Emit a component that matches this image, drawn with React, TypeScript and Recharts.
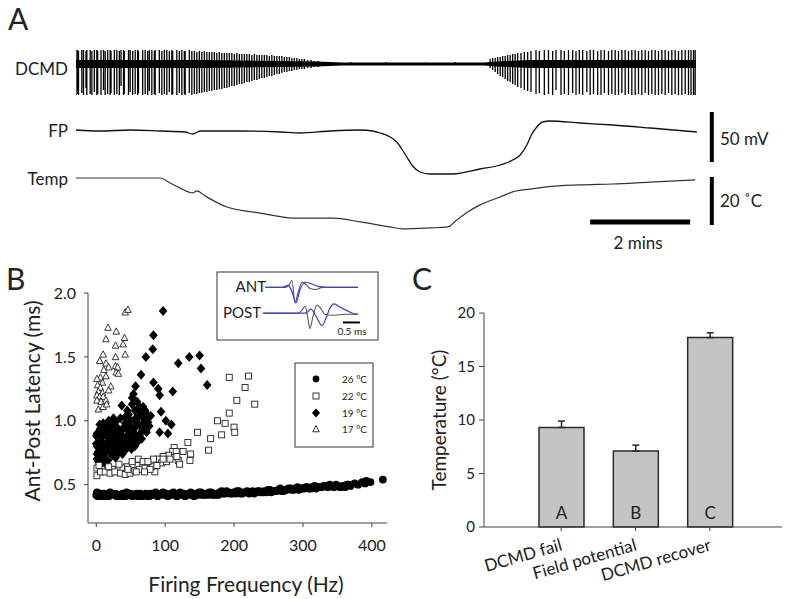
import React from 'react';
import {
  ComposedChart, ScatterChart, LineChart, Line, Area, Scatter, Bar, ErrorBar, LabelList,
  XAxis, YAxis, ReferenceLine,
} from 'recharts';

const FONT = 'Lato, "Open Sans", sans-serif';

// ---- Panel A: DCMD spikes [time s, up, down], FP (mV) and temperature (°C) ----
const dcmdSpikes: [number, number, number][] = [
  [0, 14, -31], [2, 14, -30], [3, 13, -31], [7, 14, -29], [9, 14, -31], [12, 13, -24], [13, 14, -31],
  [17, 14, -30], [19, 13, -31], [22, 14, -28], [25, 14, -31], [26, 13, -30], [30, 14, -31], [33, 14, -26],
  [35, 13, -31], [38, 14, -30], [41, 14, -31], [42, 13, -29], [46, 14, -31], [49, 14, -30], [52, 13, -31],
  [54, 14, -22], [57, 14, -31], [58, 13, -30], [63, 14, -31], [65, 14, -28], [68, 13, -31], [71, 14, -30],
  [74, 14, -31], [75, 13, -29], [80, 14, -31], [83, 14, -30], [86, 13, -31], [88, 14, -27], [91, 14, -31],
  [94, 13, -30], [95, 14, -31], [100, 14, -29], [103, 13, -31], [106, 14, -30], [109, 14, -31], [112, 13, -28],
  [115, 14, -31], [116, 13, -30], [121, 14, -31], [124, 13, -29], [127, 14, -31], [130, 13, -30], [131, 13, -31],
  [136, 14, -29], [139, 13, -31], [142, 13, -30], [145, 12, -30], [148, 13, -29],
  [151, 12, -29], [154, 13, -28], [157, 12, -28], [160, 12, -27], [163, 12, -27], [166, 12, -26], [169, 11, -26],
  [172, 12, -25], [175, 11, -25], [178, 11, -24], [181, 11, -24], [184, 11, -23], [187, 11, -22], [190, 10, -22],
  [193, 11, -21], [196, 10, -20], [199, 10, -20], [202, 10, -19], [205, 10, -18], [208, 10, -18], [211, 9, -17],
  [214, 10, -16], [217, 9, -16], [220, 9, -15], [223, 9, -14], [226, 9, -14], [229, 9, -13], [232, 8, -12],
  [235, 9, -12], [238, 8, -11], [241, 8, -10], [244, 8, -10], [247, 8, -9], [250, 7, -8], [253, 7, -8],
  [256, 7, -7], [259, 6, -7], [262, 6, -6], [265, 6, -6], [268, 5, -5], [271, 5, -5], [274, 5, -5],
  [278, 4, -4], [282, 4, -4], [286, 3, -3], [291, 3, -3], [296, 2, -2],
  [330, 2, -1], [372, 2, -1], [420, 1.5, -1], [455, 2, -1],
  [497, 5, -4], [500, 6, -6], [503, 6, -8], [506, 7, -10], [509, 7, -12], [512, 8, -13], [515, 8, -15],
  [518, 9, -17], [521, 9, -18], [524, 10, -20], [527, 10, -21], [530, 11, -23], [534, 11, -24], [538, 12, -26],
  [542, 12, -27], [546, 13, -28],
  [552, 14, -30], [556, 13, -29], [562, 14, -31], [567, 14, -30], [572, 13, -31], [576, 14, -26], [582, 14, -31],
  [586, 13, -30], [591, 14, -31], [596, 14, -29], [600, 13, -31], [604, 14, -30], [608, 14, -31], [613, 13, -28],
  [617, 14, -31], [621, 14, -30], [626, 13, -31], [630, 14, -31], [634, 14, -29], [639, 13, -31], [643, 14, -30],
  [647, 14, -31], [651, 13, -31], [655, 14, -29], [659, 14, -31], [663, 13, -30], [667, 14, -31], [671, 14, -31],
  [675, 13, -30], [679, 14, -31], [683, 14, -29], [687, 13, -31], [691, 14, -30], [695, 14, -31], [699, 13, -31],
  [703, 14, -30], [707, 14, -31], [711, 13, -29], [715, 14, -31], [719, 14, -30], [723, 13, -31], [727, 14, -31],
  [731, 14, -30], [735, 14, -31], [738, 14, -31], [741, 14, -31], [743, 14, -31],
];

// noise band of the DCMD baseline [time s, half width]
const dcmdNoise: [number, number][] = [
  [0, 4], [150, 4], [290, 2.5], [320, 1.5], [490, 1.5], [505, 2.5], [545, 4], [744, 4],
];

const fpTrace: [number, number][] = [
  [0, -30], [29, -31], [65, -30], [101, -31], [131, -32], [140, -34], [149, -31], [197, -31], [245, -32],
  [269, -33], [305, -31], [341, -30], [356, -31], [365, -33], [377, -37], [385, -42], [391, -49], [397, -57],
  [404, -66], [413, -72], [425, -74], [452, -74], [485, -69], [509, -65], [524, -60], [533, -55], [541, -45],
  [547, -34], [553, -27], [560, -22], [569, -21], [605, -23], [644, -25], [689, -28], [745, -32],
];

const tempTrace: [number, number][] = [
  [0, 26], [101, 26], [113, 23.9], [125, 21.8], [140, 19.8], [145, 20.6], [155, 18.5], [181, 13.9],
  [221, 11.4], [260, 9.3], [308, 9.3], [341, 7.7], [377, 5.6], [392, 4.8], [425, 5.2], [446, 5.6],
  [457, 8.5], [470, 11.8], [485, 14.8], [509, 18.1], [524, 20.2], [545, 21.4], [565, 22.3], [605, 23.1],
  [644, 23.5], [689, 24.3], [743, 25.2],
];

// ---- Panel B: latency (ms) vs firing frequency (Hz) ----
const lat26: [number, number][] = [
  [0, 0.42], [2, 0.41], [4, 0.43], [6, 0.42], [9, 0.41], [12, 0.43], [15, 0.42], [18, 0.41], [22, 0.43],
  [26, 0.42], [30, 0.41], [34, 0.42], [38, 0.43], [42, 0.41], [46, 0.42], [50, 0.43], [55, 0.42], [60, 0.41],
  [64, 0.43], [69, 0.42], [74, 0.41], [79, 0.43], [84, 0.42], [89, 0.41], [94, 0.43], [99, 0.42], [104, 0.41],
  [109, 0.43], [114, 0.42], [119, 0.43], [124, 0.42], [129, 0.41], [134, 0.43], [139, 0.42], [144, 0.43],
  [149, 0.44], [154, 0.42], [159, 0.43], [164, 0.44], [169, 0.42], [174, 0.43], [179, 0.44], [184, 0.43],
  [189, 0.45], [194, 0.43], [199, 0.44], [204, 0.45], [209, 0.43], [214, 0.44], [219, 0.45], [224, 0.44],
  [229, 0.43], [234, 0.45], [239, 0.44], [244, 0.45], [249, 0.46], [254, 0.44], [259, 0.45], [264, 0.46],
  [269, 0.45], [274, 0.46], [279, 0.47], [284, 0.46], [289, 0.47], [294, 0.46], [299, 0.47], [304, 0.48],
  [309, 0.47], [314, 0.48], [319, 0.47], [324, 0.48], [330, 0.49], [336, 0.48], [342, 0.49], [348, 0.5],
  [354, 0.48], [358, 0.49], [364, 0.5], [369, 0.49], [375, 0.51], [380, 0.5], [386, 0.52], [390, 0.51],
  [392, 0.53], [398, 0.52], [416, 0.54],
  [1, 0.44], [8, 0.43], [13, 0.41], [20, 0.44], [28, 0.43], [36, 0.41], [44, 0.44], [52, 0.41], [58, 0.43],
  [66, 0.41], [72, 0.43], [77, 0.41], [86, 0.44], [92, 0.42], [97, 0.44], [102, 0.43], [107, 0.42],
  [112, 0.44], [117, 0.41], [122, 0.44], [127, 0.43], [132, 0.42], [137, 0.44], [142, 0.41], [147, 0.42],
  [152, 0.44], [157, 0.42], [162, 0.42], [167, 0.44], [172, 0.42], [177, 0.42], [182, 0.45], [187, 0.43],
  [192, 0.44], [197, 0.43], [202, 0.43], [207, 0.45], [212, 0.43], [217, 0.44], [222, 0.43], [227, 0.45],
  [232, 0.44], [237, 0.45], [242, 0.44], [247, 0.44], [252, 0.46], [257, 0.45], [262, 0.45], [267, 0.47],
  [272, 0.45], [277, 0.46], [282, 0.47], [287, 0.46], [292, 0.48], [297, 0.47], [302, 0.47], [307, 0.48],
  [312, 0.47], [317, 0.49], [322, 0.48], [327, 0.48], [333, 0.49], [339, 0.5], [345, 0.48], [351, 0.49],
  [361, 0.48], [366, 0.5],
];

const lat22: [number, number][] = [
  [221, 1.35], [193, 1.34], [216, 1.26], [204, 1.16], [230, 1.13], [193, 1.06], [176, 1.0], [187, 0.98],
  [182, 0.89], [200, 0.95], [201, 0.91], [166, 0.86], [163, 0.77], [147, 0.91], [133, 0.83], [126, 0.76],
  [137, 0.74], [136, 0.69], [119, 0.69], [121, 0.66], [113, 0.79], [111, 0.76], [105, 0.73], [97, 0.72],
  [90, 0.7], [83, 0.7], [85, 0.6], [80, 0.64], [73, 0.67], [66, 0.66], [59, 0.65], [52, 0.65], [44, 0.64],
  [37, 0.63], [30, 0.62], [23, 0.62], [15, 0.61], [8, 0.62], [1, 0.63], [1, 0.57], [6, 0.6], [13, 0.6],
  [20, 0.59], [27, 0.6], [35, 0.59], [42, 0.58], [49, 0.59], [56, 0.61], [63, 0.62], [71, 0.63], [78, 0.62],
  [61, 0.7], [68, 0.68], [75, 0.68], [52, 0.68], [95, 0.67], [102, 0.68], [107, 0.7], [116, 0.76], [97, 0.7],
  [117, 0.72], [4, 0.65], [18, 0.64], [33, 0.66], [46, 0.62], [58, 0.6], [88, 0.65], [70, 0.6],
];

const lat19: [number, number][] = [
  [97, 1.86], [83, 1.67], [82, 1.56], [72, 1.5], [65, 1.36], [57, 1.27], [119, 1.45], [135, 1.5], [150, 1.51],
  [152, 1.41], [161, 1.28], [111, 1.23], [83, 1.3], [90, 1.25], [92, 1.2], [94, 1.07], [101, 1.0], [109, 0.97],
  [104, 0.9], [92, 0.91], [79, 1.04], [54, 1.21], [59, 1.15], [52, 1.13], [63, 1.11], [56, 1.08], [68, 1.11],
  [73, 1.05], [63, 1.04], [47, 1.05], [42, 1.03], [35, 1.02], [28, 0.99], [22, 0.96], [15, 0.95], [6, 0.94],
  [1, 0.9], [11, 0.9], [20, 0.91], [30, 0.92], [40, 0.95], [49, 0.96], [59, 0.98], [68, 0.95], [73, 0.91],
  [66, 0.86], [54, 0.91], [44, 0.88], [35, 0.86], [25, 0.84], [15, 0.83], [6, 0.84], [1, 0.8], [6, 0.78],
  [1, 0.74], [8, 0.72], [15, 0.76], [25, 0.78], [32, 0.8], [40, 0.82], [49, 0.83], [56, 0.8], [61, 0.84],
  [51, 0.78], [42, 0.77], [33, 0.76], [23, 0.73], [13, 0.7], [3, 0.68], [10, 0.66], [1, 0.7], [0, 0.88],
  [0, 0.82], [30, 0.95], [37, 0.88], [20, 0.86], [27, 0.89], [15, 0.9], [42, 0.98], [37, 1.12], [52, 1.18],
  [45, 1.08], [68, 1.02], [75, 0.99], [63, 0.89], [47, 0.92],
  [3, 0.76], [5, 0.82], [8, 0.87], [10, 0.8], [12, 0.74], [17, 0.79], [18, 0.86], [21, 0.81], [24, 0.75],
  [26, 0.92], [29, 0.84], [31, 0.74], [33, 0.89], [36, 0.8], [38, 0.93], [40, 0.87], [44, 0.82], [46, 0.97],
  [48, 0.88], [50, 1.0], [53, 0.85], [55, 0.94], [57, 1.02], [58, 0.88], [62, 0.97], [64, 1.06], [66, 0.92],
  [70, 0.99], [71, 1.08], [77, 0.96], [5, 0.97], [10, 0.98], [18, 1.0], [25, 1.02], [3, 0.71], [7, 0.67],
  [17, 0.69], [28, 0.71], [38, 0.74], [48, 0.8],
];

const lat17: [number, number][] = [
  [42, 1.85], [46, 1.87], [17, 1.73], [29, 1.7], [14, 1.64], [41, 1.65], [28, 1.59], [39, 1.6], [10, 1.52],
  [42, 1.52], [28, 1.5], [5, 1.47], [14, 1.45], [18, 1.42], [28, 1.43], [31, 1.42], [29, 1.38], [32, 1.37],
  [11, 1.4], [6, 1.34], [14, 1.35], [1, 1.33], [9, 1.3], [2, 1.28], [6, 1.26], [21, 1.27], [18, 1.24],
  [3, 1.23], [9, 1.22], [1, 1.2], [5, 1.19], [10, 1.19], [1, 1.16], [7, 1.15], [14, 1.16], [3, 1.09],
  [10, 1.11], [15, 1.13],
];

const freqTicks = [0, 100, 200, 300, 400];
const latTicks = [0.5, 1.0, 1.5, 2.0];

// inset waveforms [time ms, amplitude]
const antBlack: [number, number][] = [
  [0.06, 0], [0.65, 0], [0.76, 2], [0.85, 7], [0.94, -15], [1.03, -5], [1.15, 5], [1.26, 3], [1.38, -1],
  [1.56, -2], [1.74, 0], [2.79, 0],
];
const antBlue: [number, number][] = [
  [0.06, 0], [0.56, 0], [0.74, 2], [0.85, -4], [0.97, -15], [1.09, -2], [1.24, 5], [1.38, 4], [1.62, 1],
  [1.91, 0], [2.79, 0],
];
const postBlack: [number, number][] = [
  [0, 0], [1.03, 0], [1.15, 3], [1.24, 7], [1.32, -5], [1.38, -15], [1.47, -3], [1.59, 8], [1.71, 4],
  [1.82, -1], [2.03, -2], [2.41, -1], [2.79, -1],
];
const postBlue: [number, number][] = [
  [0, 0], [1.26, 0], [1.41, 4], [1.56, -3], [1.74, -12], [1.85, -5], [1.97, 5], [2.09, 9], [2.26, 6],
  [2.5, 2], [2.74, -1], [2.79, -1],
];

// ---- Panel C ----
const stages = ['DCMD fail', 'Field potential', 'DCMD recover'];
const stageTemps = [9.3, 7.1, 17.7];
const stageSem = [0.6, 0.55, 0.45];
const stageLetters = ['A', 'B', 'C'];

const toXY = (arr: [number, number][], kx: string, ky: string) => arr.map(([a, b]) => ({ [kx]: a, [ky]: b }));

const dcmdData = dcmdSpikes.flatMap(([t, up, down]) => [
  { t, v: 0 }, { t, v: up }, { t, v: down }, { t, v: 0 },
]);
const noiseData = dcmdNoise.map(([t, w]) => ({ t, band: [-w, w] }));
const fpData = toXY(fpTrace, 't', 'v');
const tempData = toXY(tempTrace, 't', 'v');

const stageData = stages.map((name, i) => ({
  name, temp: stageTemps[i], err: [0, stageSem[i]], letter: stageLetters[i],
}));

const Dot26 = (p: any) => <circle cx={p.cx} cy={p.cy} r={3.9} fill="#000" />;
const Sq22 = (p: any) => (
  <rect x={p.cx - 3} y={p.cy - 3} width={6} height={6} fill="#fff" stroke="#222" strokeWidth={0.9} />
);
const Dia19 = (p: any) => (
  <polygon points={`${p.cx},${p.cy - 5} ${p.cx + 4.3},${p.cy} ${p.cx},${p.cy + 5} ${p.cx - 4.3},${p.cy}`} fill="#000" />
);
const Tri17 = (p: any) => (
  <polygon points={`${p.cx},${p.cy - 3.5} ${p.cx + 3.3},${p.cy + 2.8} ${p.cx - 3.3},${p.cy + 2.8}`} fill="#fff" stroke="#222" strokeWidth={0.9} />
);

const SlantTick = ({ x, y, payload }: any) => (
  <text x={x + 2} y={y + 17} textAnchor="end" fontSize={17} fontFamily={FONT} fill="#222"
    transform={`rotate(-16 ${x + 2} ${y + 17})`}>{payload.value}</text>
);

const tickStyle = { fontSize: 16, fill: '#222', fontFamily: FONT };

export default function App() {
  return (
    <div style={{ position: 'absolute', left: 0, top: 0, width: 787, height: 599, background: '#fff', fontFamily: FONT }}>
      {/* A: traces */}
      <ComposedChart width={787} height={260} margin={{ top: 40, right: 51, bottom: 10, left: 76 }}
        style={{ position: 'absolute', left: 0, top: 0 }}>
        <XAxis type="number" dataKey="t" domain={[0, 792]} hide allowDataOverflow />
        <YAxis yAxisId="dcmd" type="number" domain={[-186, 24]} hide allowDataOverflow />
        <YAxis yAxisId="fp" type="number" domain={[-150, 60]} hide allowDataOverflow />
        <YAxis yAxisId="temp" type="number" domain={[-4, 83.5]} hide allowDataOverflow />
        <Area yAxisId="dcmd" data={noiseData} dataKey="band" type="linear" fill="#000" fillOpacity={1}
          stroke="none" isAnimationActive={false} />
        <Line yAxisId="dcmd" data={dcmdData} dataKey="v" type="linear" stroke="#000" strokeWidth={1.3}
          dot={false} isAnimationActive={false} />
        <Line yAxisId="fp" data={fpData} dataKey="v" type="monotone" stroke="#111" strokeWidth={1.3}
          dot={false} isAnimationActive={false} />
        <Line yAxisId="temp" data={tempData} dataKey="v" type="monotone" stroke="#333" strokeWidth={1.2}
          dot={false} isAnimationActive={false} />
        {/* scale bars: 50 mV, 20 °C, 2 mins */}
        <ReferenceLine yAxisId="fp" segment={[{ x: 763, y: -62 }, { x: 763, y: -12 }]} stroke="#000" strokeWidth={4} ifOverflow="visible" />
        <ReferenceLine yAxisId="temp" segment={[{ x: 763, y: 6.4 }, { x: 763, y: 26.4 }]} stroke="#000" strokeWidth={4} ifOverflow="visible" />
        <ReferenceLine yAxisId="temp" segment={[{ x: 617, y: 7.7 }, { x: 737, y: 7.7 }]} stroke="#000" strokeWidth={5} ifOverflow="visible" />
      </ComposedChart>

      {/* B: scatter */}
      <ScatterChart width={400} height={339} margin={{ top: 33, right: 13, bottom: 46, left: 28 }}
        style={{ position: 'absolute', left: 0, top: 260 }}>
        <XAxis type="number" dataKey="f" domain={[-12, 422]} ticks={freqTicks} allowDataOverflow
          stroke="#444" tickSize={4} tickMargin={13} height={30} tick={tickStyle} />
        <YAxis type="number" dataKey="lat" domain={[0.2, 2.0]} ticks={latTicks} allowDataOverflow
          tickFormatter={(v: number) => v.toFixed(1)} stroke="#444" tickSize={4} tickMargin={8} width={60} tick={tickStyle} />
        <Scatter data={toXY(lat26, 'f', 'lat')} shape={Dot26} isAnimationActive={false} />
        <Scatter data={toXY(lat19, 'f', 'lat')} shape={Dia19} isAnimationActive={false} />
        <Scatter data={toXY(lat22, 'f', 'lat')} shape={Sq22} isAnimationActive={false} />
        <Scatter data={toXY(lat17, 'f', 'lat')} shape={Tri17} isAnimationActive={false} />
      </ScatterChart>

      {/* B inset: waveforms */}
      <LineChart width={140} height={70} margin={{ top: 2, right: 6, bottom: 2, left: 0 }}
        style={{ position: 'absolute', left: 263, top: 272 }}>
        <XAxis type="number" dataKey="t" domain={[0, 3.94]} hide allowDataOverflow />
        <YAxis yAxisId="ant" type="number" domain={[-51, 13]} hide allowDataOverflow />
        <YAxis yAxisId="post" type="number" domain={[-26, 38]} hide allowDataOverflow />
        <Line yAxisId="ant" data={toXY(antBlack, 't', 'v')} dataKey="v" type="monotone" stroke="#555" strokeWidth={1.1} dot={false} isAnimationActive={false} />
        <Line yAxisId="ant" data={toXY(antBlue, 't', 'v')} dataKey="v" type="monotone" stroke="#3a3ae0" strokeWidth={1.2} dot={false} isAnimationActive={false} />
        <Line yAxisId="post" data={toXY(postBlack, 't', 'v')} dataKey="v" type="monotone" stroke="#555" strokeWidth={1.1} dot={false} isAnimationActive={false} />
        <Line yAxisId="post" data={toXY(postBlue, 't', 'v')} dataKey="v" type="monotone" stroke="#3a3ae0" strokeWidth={1.2} dot={false} isAnimationActive={false} />
        <ReferenceLine yAxisId="post" segment={[{ x: 2.35, y: -9 }, { x: 2.85, y: -9 }]} stroke="#000" strokeWidth={2} ifOverflow="visible" />
      </LineChart>

      {/* C: bars */}
      <ComposedChart width={387} height={339} data={stageData} margin={{ top: 53, right: 5, bottom: 32, left: 24 }}
        style={{ position: 'absolute', left: 400, top: 260 }}>
        <XAxis dataKey="name" padding={{ left: 40, right: 35 }} stroke="#444" tickSize={4} height={40}
          tick={<SlantTick />} interval={0} />
        <YAxis type="number" domain={[0, 20]} ticks={[0, 5, 10, 15, 20]} stroke="#444" tickSize={5}
          tickMargin={4} width={60} tick={{ ...tickStyle, fontSize: 15 }} />
        <Bar dataKey="temp" barSize={45} fill="#c4c4c4" stroke="#2a2a2a" strokeWidth={1.5} isAnimationActive={false}>
          <ErrorBar dataKey="err" direction="y" width={3.5} stroke="#2a2a2a" strokeWidth={1.5} />
          <LabelList dataKey="letter" position="insideBottom" offset={8} fill="#222" fontSize={17} fontFamily={FONT} />
        </Bar>
      </ComposedChart>

      {/* text, frames and legend */}
      <svg width={787} height={599} style={{ position: 'absolute', left: 0, top: 0, pointerEvents: 'none' }}
        fontFamily={FONT} fill="#222">
        <text x={8} y={18} fontSize={30} dominantBaseline="central">A</text>
        <text x={6} y={278} fontSize={30} dominantBaseline="central">B</text>
        <text x={412} y={278} fontSize={30} dominantBaseline="central">C</text>

        <text x={68} y={68} fontSize={17} textAnchor="end" dominantBaseline="central">DCMD</text>
        <text x={68} y={130} fontSize={17} textAnchor="end" dominantBaseline="central">FP</text>
        <text x={68} y={178} fontSize={17} textAnchor="end" dominantBaseline="central">Temp</text>
        <text x={720} y={138} fontSize={17} dominantBaseline="central">50 mV</text>
        <text x={720} y={200} fontSize={17} dominantBaseline="central">20 ˚C</text>
        <text x={638} y={242} fontSize={17} textAnchor="middle" dominantBaseline="central">2 mins</text>

        <text x={31} y={401} fontSize={21} textAnchor="middle" dominantBaseline="central"
          transform="rotate(-90 31 401)">Ant-Post Latency (ms)</text>
        <text x={246} y={583} fontSize={21} textAnchor="middle" dominantBaseline="central">Firing Frequency (Hz)</text>
        <text x={438} y={420} fontSize={19} textAnchor="middle" dominantBaseline="central"
          transform="rotate(-90 438 420)">Temperature (°C)</text>

        <rect x={217} y={272} width={161} height={68} fill="none" stroke="#333" strokeWidth={1} />
        <text x={266} y={286} fontSize={15} textAnchor="end" dominantBaseline="central">ANT</text>
        <text x={261} y={312} fontSize={15} textAnchor="end" dominantBaseline="central">POST</text>
        <text x={352} y={331} fontSize={10} textAnchor="middle" dominantBaseline="central">0.5 ms</text>

        <rect x={295} y={363} width={78} height={84} fill="none" stroke="#333" strokeWidth={1} />
        <circle cx={316} cy={379} r={3.4} fill="#000" />
        <rect x={313} y={393} width={6} height={6} fill="#fff" stroke="#222" strokeWidth={0.9} />
        <polygon points="316,408.5 320,413 316,417.5 312,413" fill="#000" />
        <polygon points="316,425.5 319.3,431.8 312.7,431.8" fill="#fff" stroke="#222" strokeWidth={0.9} />
        <text x={342} y={379} fontSize={10} dominantBaseline="central">26 °C</text>
        <text x={342} y={396} fontSize={10} dominantBaseline="central">22 °C</text>
        <text x={342} y={413} fontSize={10} dominantBaseline="central">19 °C</text>
        <text x={342} y={429} fontSize={10} dominantBaseline="central">17 °C</text>
      </svg>
    </div>
  );
}
